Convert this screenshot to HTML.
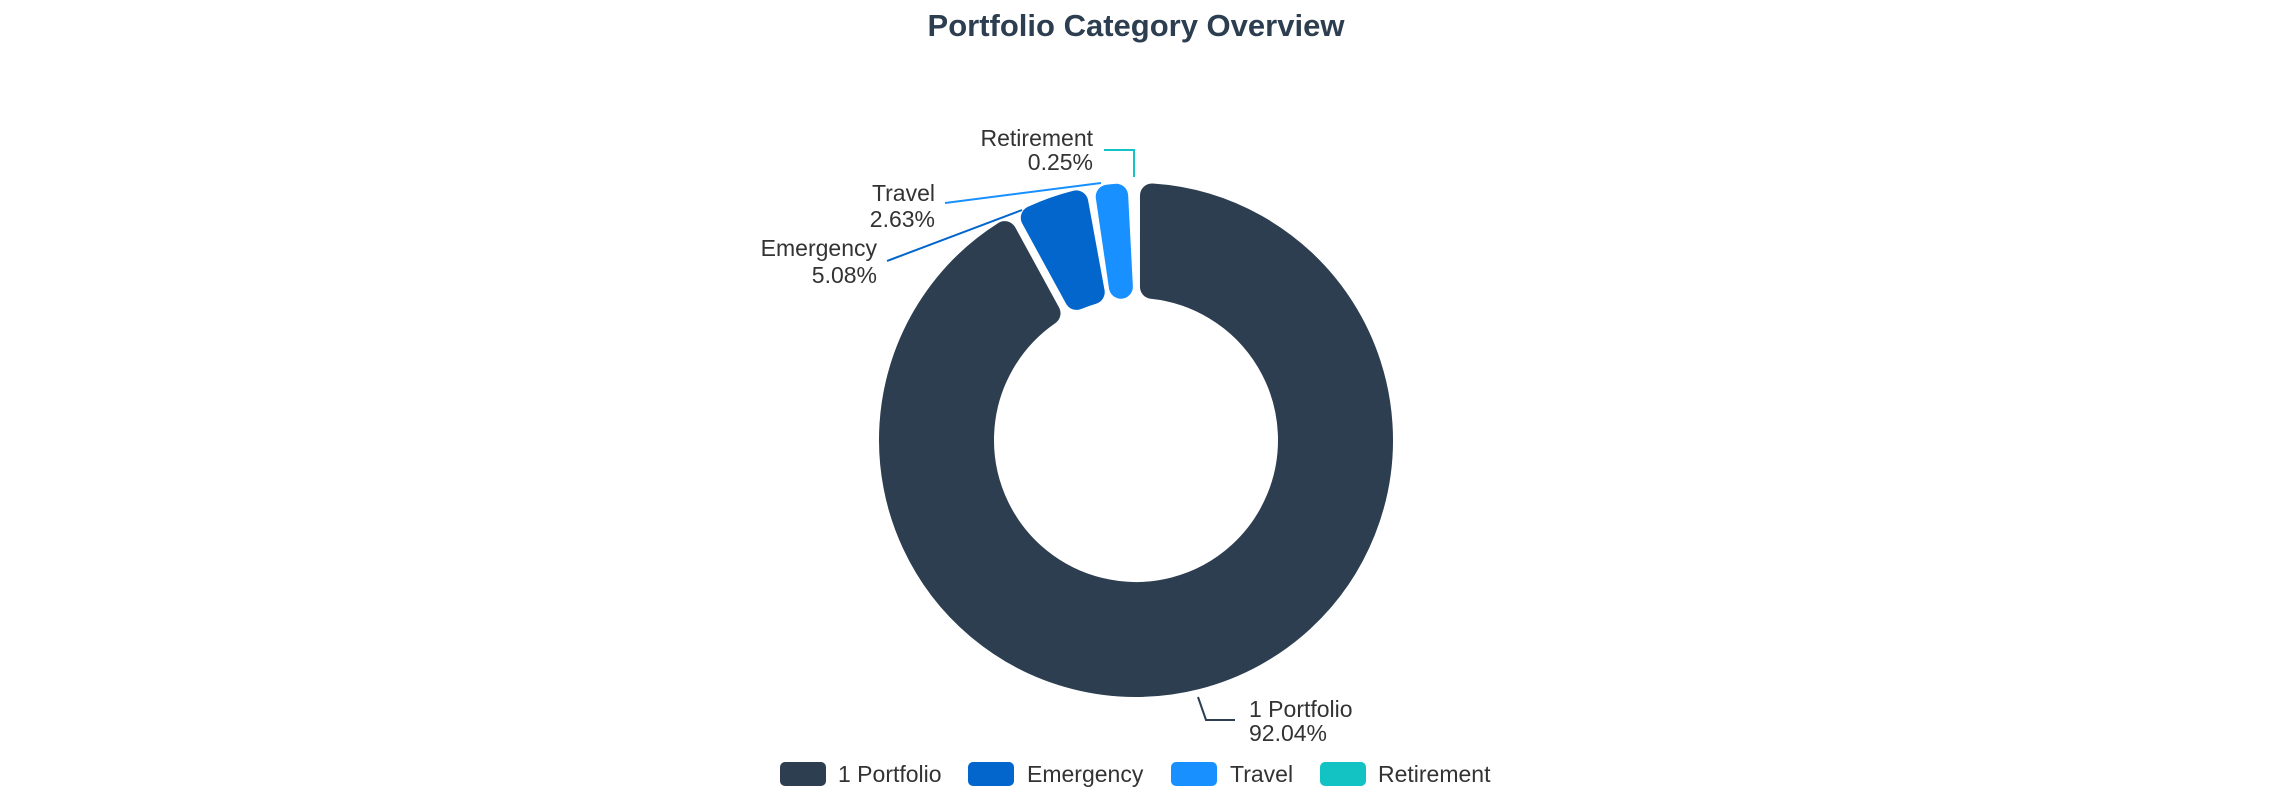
<!DOCTYPE html>
<html><head><meta charset="utf-8"><style>
html,body{margin:0;padding:0;background:#fff;}
svg{display:block;font-family:"Liberation Sans",Arial,sans-serif;}
</style></head><body>
<svg id="s" width="2272" height="800" viewBox="0 0 2272 800">
<text x="1136" y="36" text-anchor="middle" font-size="31" font-weight="bold" fill="#2c3e50">Portfolio Category Overview</text>
<g id="arcs"></g>
<g font-size="23" fill="#333">
<text x="1093" y="146" text-anchor="end">Retirement</text>
<text x="1093" y="170" text-anchor="end">0.25%</text>
<text x="935" y="201" text-anchor="end">Travel</text>
<text x="935" y="227" text-anchor="end">2.63%</text>
<text x="877" y="256" text-anchor="end">Emergency</text>
<text x="877" y="283" text-anchor="end">5.08%</text>
<text x="1249" y="717">1 Portfolio</text>
<text x="1249" y="741">92.04%</text>
</g>
<g fill="none" stroke-width="2">
<polyline points="1104,150 1134,150 1134,177" stroke="#13c2c2"/>
<polyline points="945,203 1101,183" stroke="#1890ff"/>
<polyline points="887,261 1022,210" stroke="#0366cc"/>
<polyline points="1198,697 1206,720 1235,720" stroke="#2c3e50"/>
</g>
<g font-size="23" fill="#333">
<rect x="780" y="762" width="46" height="24" rx="5" fill="#2c3e50"/>
<text x="838" y="782">1 Portfolio</text>
<rect x="968" y="762" width="46" height="24" rx="5" fill="#0366cc"/>
<text x="1027" y="782">Emergency</text>
<rect x="1171" y="762" width="46" height="24" rx="5" fill="#1890ff"/>
<text x="1230" y="782">Travel</text>
<rect x="1320" y="762" width="46" height="24" rx="5" fill="#13c2c2"/>
<text x="1378" y="782">Retirement</text>
</g>
</svg>
<script>
(function(){
var cx=1136,cy=440,ro=257,ri=142,g=8,cr=12;
var data=[[92.04,"#2c3e50"],[5.08,"#0366cc"],[2.63,"#1890ff"],[0.25,"#13c2c2"]];
var tot=0;data.forEach(function(d){tot+=d[0];});
var a=0,out="";
function P(r,t){return (cx+r*Math.sin(t)).toFixed(2)+","+(cy-r*Math.cos(t)).toFixed(2);}
data.forEach(function(d){
 var a0=a,a1=a+d[0]/tot*2*Math.PI;a=a1;
 var R=ro-cr,r=ri+cr;
 var o0=a0+(g/2+cr)/R,o1=a1-(g/2+cr)/R;
 var i0=a0+(g/2+cr)/r,i1=a1-(g/2+cr)/r;
 if(o1<o0)return;
 if(i1<i0){var m=(a0+a1)/2;i0=i1=m;}
 var lo=(o1-o0)>Math.PI?1:0,li=(i1-i0)>Math.PI?1:0;
 var p="M"+P(R,o0)+" A"+R+","+R+" 0 "+lo+" 1 "+P(R,o1)+" L"+P(r,i1)+" A"+r+","+r+" 0 "+li+" 0 "+P(r,i0)+" Z";
 out+='<path d="'+p+'" fill="'+d[1]+'" stroke="'+d[1]+'" stroke-width="'+(2*cr)+'" stroke-linejoin="round"/>';
});
document.getElementById("arcs").innerHTML=out;
})();
</script>
</body></html>
